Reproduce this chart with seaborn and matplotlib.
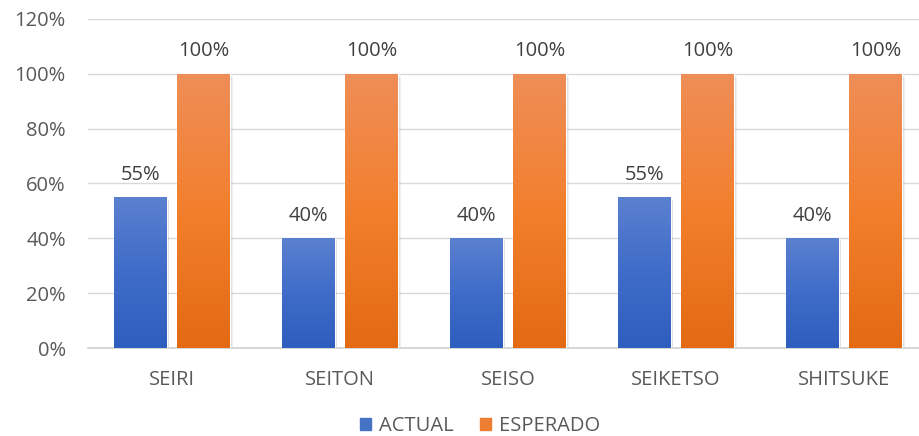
import numpy as np
import pandas as pd
import matplotlib
matplotlib.use("Agg")
import matplotlib.pyplot as plt
import seaborn as sns
from matplotlib.colors import LinearSegmentedColormap
from matplotlib.patches import Rectangle
from matplotlib.transforms import offset_copy
from matplotlib.ticker import FuncFormatter

categories = ["SEIRI", "SEITON", "SEISO", "SEIKETSO", "SHITSUKE"]
actual = [0.55, 0.40, 0.40, 0.55, 0.40]
esperado = [1.00, 1.00, 1.00, 1.00, 1.00]
series = ["ACTUAL", "ESPERADO"]
yticks = [0, 0.2, 0.4, 0.6, 0.8, 1.0, 1.2]

df = pd.DataFrame({
    "cat": categories * 2,
    "serie": [series[0]] * len(categories) + [series[1]] * len(categories),
    "val": actual + esperado,
})

sns.set_theme(style="white")
plt.rcParams["font.family"] = ["Open Sans", "DejaVu Sans"]

W, H = 919, 436
fig = plt.figure(figsize=(W / 100, H / 100), dpi=100)
ax = fig.add_axes([88 / W, 88 / H, (928 - 88) / W, (417 - 88) / H])

FS = 14.5
base_cols = {"ACTUAL": "#4472C4", "ESPERADO": "#ED7D31"}
sns.barplot(data=df, x="cat", y="val", hue="serie", palette=base_cols,
            width=0.76, gap=0.17, ax=ax, legend=False, zorder=3)

ax.set_ylim(0, 1.2)
ax.set_xlim(-0.5, len(categories) - 0.5)
ax.set_yticks(yticks)
ax.yaxis.set_major_formatter(FuncFormatter(lambda v, p: f"{v*100:.0f}%"))
ax.grid(axis="y", color="#d9d9d9", linewidth=1, zorder=0)
for s in ["left", "right", "top"]:
    ax.spines[s].set_visible(False)
ax.spines["bottom"].set_color("#d0d0d0")
ax.spines["bottom"].set_linewidth(1.2)
ax.set_xlabel("")
ax.set_ylabel("")
ax.tick_params(axis="both", length=0, labelsize=FS, colors="#595959")
ax.tick_params(axis="y", pad=16)
ax.tick_params(axis="x", pad=16)

grads = {
    "ACTUAL": LinearSegmentedColormap.from_list("b", ["#2E5EBE", "#3E6CC8", "#5B80D0"]),
    "ESPERADO": LinearSegmentedColormap.from_list("o", ["#E46A14", "#F27F2C", "#EF8E58"]),
}
grad = np.linspace(0, 1, 256).reshape(-1, 1)
patches = list(ax.patches)
n = len(categories)
for i, p in enumerate(patches):
    s = series[i // n]
    x0, y0 = p.get_x(), p.get_y()
    w, h = p.get_width(), p.get_height()
    # soft shadow
    for k, a in [(3, 0.06), (2, 0.08), (1, 0.1)]:
        sh = Rectangle((x0, y0), w, h, facecolor="black", edgecolor="none", alpha=a,
                       transform=offset_copy(ax.transData, fig=fig, x=k * 0.7, y=-k * 0.7, units="points"),
                       zorder=2)
        ax.add_patch(sh)
    p.set_facecolor("none")
    im = ax.imshow(grad, cmap=grads[s], origin="lower", aspect="auto",
                   extent=[x0, x0 + w, y0, y0 + h], zorder=3)
    im.set_clip_path(p)
    v = h
    ax.annotate(f"{v*100:.0f}%", (x0 + w / 2, y0 + h), xytext=(0, 9),
                textcoords="offset points", ha="center", va="bottom",
                fontsize=FS, color="#404040", zorder=5)

ax.set_xlim(-0.5, len(categories) - 0.5)
ax.set_ylim(0, 1.2)

handles = [Rectangle((0, 0), 1, 1, color=base_cols[s]) for s in series]
fig.legend(handles, series, loc="center", bbox_to_anchor=(480 / W, 1 - 426 / H),
           ncol=2, frameon=False, fontsize=FS, labelcolor="#595959",
           handlelength=0.55, handleheight=0.55, handletextpad=0.4, columnspacing=1.3)

fig.savefig("out.png", dpi=100)
